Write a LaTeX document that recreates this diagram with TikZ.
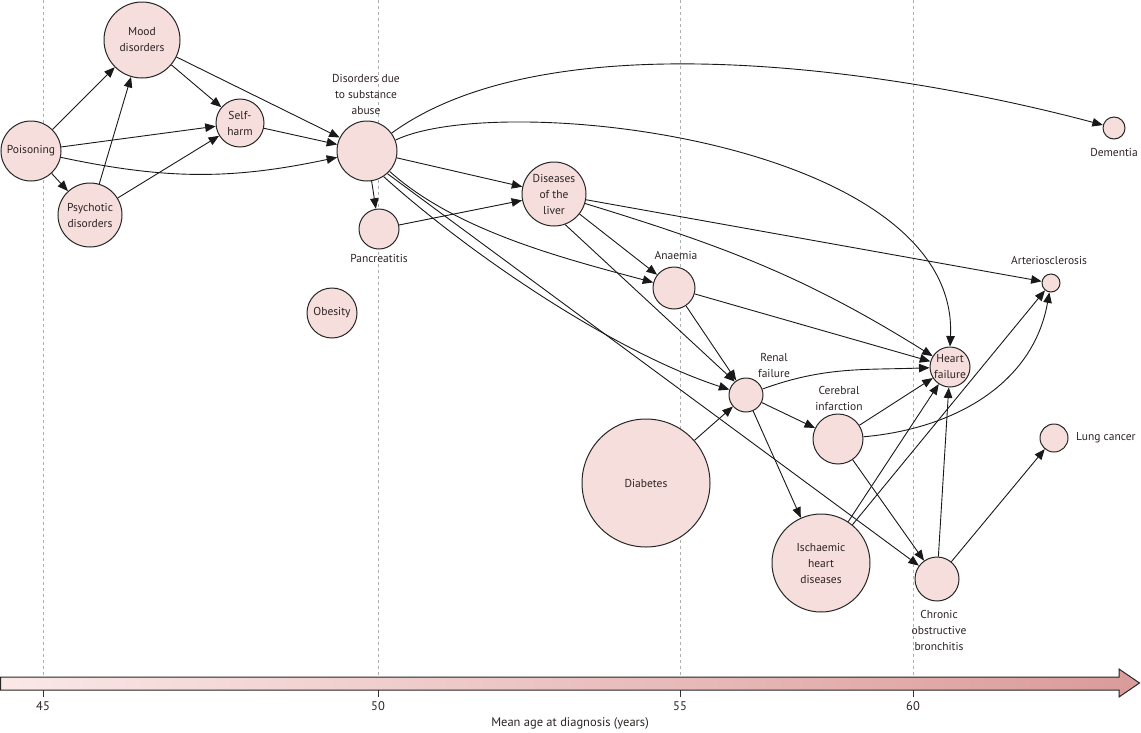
\documentclass[tikz,border=0pt]{standalone}
\usepackage{fontspec}
\setmainfont{PT Sans}
\usetikzlibrary{arrows.meta}
\definecolor{nodefill}{RGB}{245,222,220}
\definecolor{txt}{RGB}{45,35,35}
\definecolor{gridc}{RGB}{175,175,175}
\definecolor{axl}{RGB}{250,232,231}
\definecolor{axr}{RGB}{218,155,153}
\tikzset{
  cnode/.style={circle, draw=black!85, line width=1pt, fill=nodefill, inner sep=0pt,
    align=center, text=txt, font=\fontsize{11.5}{16}\selectfont},
  lab/.style={align=center, text=txt, font=\fontsize{11.5}{16}\selectfont, inner sep=0pt},
  axlab/.style={align=center, text=txt, font=\fontsize{12.5}{16}\selectfont, inner sep=0pt},
  arr/.style={draw=black!90, line width=0.9pt, -{Triangle[length=10.5pt,width=8.5pt]}},
  grid/.style={draw=gridc, line width=0.6pt, dash pattern=on 3pt off 3pt},
}
\begin{document}
\begin{tikzpicture}[x=1pt,y=1pt]
\useasboundingbox (0,0) rectangle (1141,-732);
% grid lines
\foreach \gx in {43,378,680,913} {\draw[grid] (\gx,0) -- (\gx,-677);}
% axis arrow
\shade[left color=axl, right color=axr] (0.6,-677) -- (1119,-677) -- (1119,-669) -- (1139.5,-683) -- (1119,-697) -- (1119,-690) -- (0.6,-690) -- cycle;
\draw[line width=1pt, black!85, line join=miter] (0.6,-677) -- (1119,-677) -- (1119,-669) -- (1139.5,-683) -- (1119,-697) -- (1119,-690) -- (0.6,-690) -- cycle;
\foreach \gx/\gl in {43/45,378/50,680/55,913/60} {
  \draw[line width=0.8pt, black!80] (\gx,-690) -- (\gx,-697);
  \node[axlab] at (\gx,-706) {\gl};
}
\node[axlab] (axtitle) at (570,-723) {Mean age at diagnosis (years)};

% nodes
\node[cnode, minimum size=76pt] (mood) at (142,-40) {Mood\\disorders};
\node[cnode, minimum size=60pt] (pois) at (31,-151) {Poisoning};
\node[cnode, minimum size=64pt] (psy) at (90,-215) {Psychotic\\disorders};
\node[cnode, minimum size=48pt] (self) at (240,-123) {Self-\\harm};
\node[cnode, minimum size=60pt] (sub) at (367,-151) {};
\node[lab] (sublab) at (366,-94) {Disorders due\\to substance\\abuse};
\node[cnode, minimum size=40pt] (pan) at (379,-229) {};
\node[lab] (panlab) at (379,-258) {Pancreatitis};
\node[cnode, minimum size=64pt] (liv) at (554,-194) {Diseases\\of the\\liver};
\node[cnode, minimum size=42pt] (ana) at (674,-288) {};
\node[lab] (analab) at (676,-255) {Anaemia};
\node[cnode, minimum size=50pt] (obe) at (332,-313) {Obesity};
\node[cnode, minimum size=34pt] (ren) at (746,-395) {};
\node[lab] (renlab) at (774,-365) {Renal\\failure};
\node[cnode, minimum size=40pt] (hf) at (950,-367) {Heart\\failure};
\node[cnode, minimum size=50pt] (cer) at (838,-439) {};
\node[lab] (cerlab) at (839,-398) {Cerebral\\infarction};
\node[cnode, minimum size=128pt] (dia) at (646,-483) {Diabetes};
\node[cnode, minimum size=98pt] (isc) at (821,-563) {Ischaemic\\heart\\diseases};
\node[cnode, minimum size=44pt] (cob) at (937,-579) {};
\node[lab] (coblab) at (939,-630) {Chronic\\obstructive\\bronchitis};
\node[cnode, minimum size=22pt] (dem) at (1114,-128) {};
\node[lab] (demlab) at (1114,-152) {Dementia};
\node[cnode, minimum size=18pt] (art) at (1051,-283) {};
\node[lab] (artlab) at (1049,-260) {Arteriosclerosis};
\node[cnode, minimum size=28pt] (lung) at (1054,-438) {};
\node[lab, anchor=west] (lunglab) at (1076,-438) {Lung cancer};

% edges
\draw[arr] (pois) -- (mood);
\draw[arr] (pois) -- (self);
\draw[arr] (pois) -- (psy);
\draw[arr] (pois) to[out=-12, in=192] (sub);
\draw[arr] (psy) -- (mood);
\draw[arr] (psy) -- (self);
\draw[arr] (mood) -- (self);
\draw[arr] (mood) -- (sub);
\draw[arr] (self) -- (sub);
\draw[arr] (sub) -- (pan);
\draw[arr] (sub) -- (liv);
\draw[arr] (sub) to[out=36, in=165, looseness=0.72] (dem);
\draw[arr] (sub.21) .. controls (500,-90) and (960,-140) .. (hf.90);
\draw[arr] (sub) to[out=-42, in=165, looseness=0.8] (ana);
\draw[arr] (sub.-57) to[out=-42, in=162, looseness=0.75] (ren);
\draw[arr] (sub.-48) -- (cob);
\draw[arr] (pan) -- (liv);
\draw[arr] (liv) -- (ana);
\draw[arr] (liv.-70) -- (ren.130);
\draw[arr] (liv) to[out=-17, in=148] (hf);
\draw[arr] (liv) -- (art);
\draw[arr] (ana) -- (ren);
\draw[arr] (ana) -- (hf);
\draw[arr] (ren) to[out=20, in=182] (hf);
\draw[arr] (ren) -- (cer);
\draw[arr] (ren) -- (isc);
\draw[arr] (dia) -- (ren);
\draw[arr] (cer) -- (hf);
\draw[arr] (cer) to[out=5, in=-100] (art);
\draw[arr] (cer) -- (cob);
\draw[arr] (isc) -- (hf);
\draw[arr] (isc) -- (art);
\draw[arr] (cob) -- (hf);
\draw[arr] (cob) -- (lung);
\end{tikzpicture}
\end{document}
